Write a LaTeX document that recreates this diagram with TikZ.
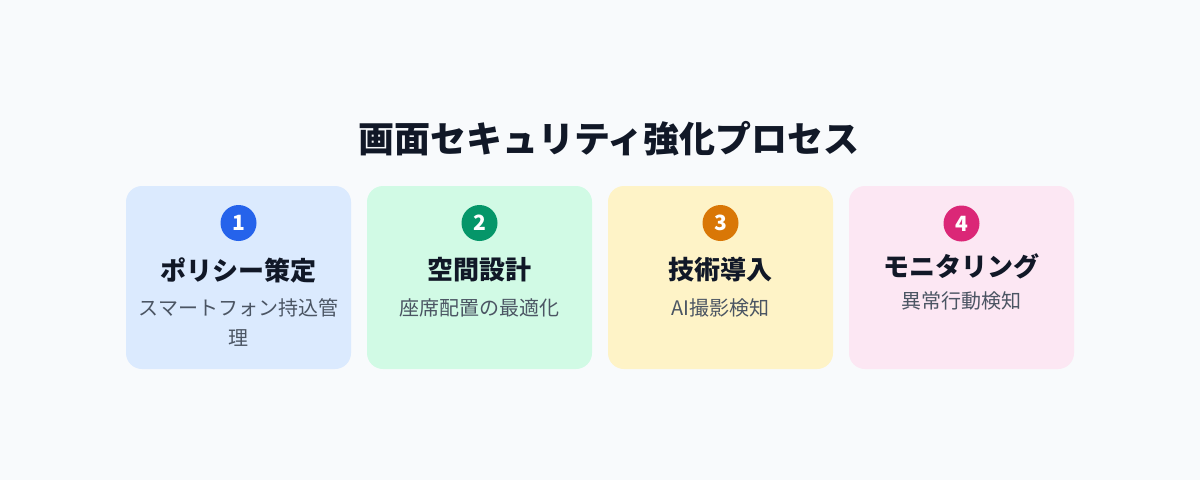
\documentclass[tikz,border=0pt]{standalone}
\usepackage{fontspec}
\setmainfont{Noto Sans CJK JP}
\usepackage{tikz}
\definecolor{pagebg}{HTML}{F8FAFC}
\definecolor{inkdark}{HTML}{111827}
\definecolor{inkgray}{HTML}{4B5563}
\definecolor{bgone}{HTML}{DBEAFE}
\definecolor{dotone}{HTML}{2563EB}
\definecolor{bgtwo}{HTML}{D1FAE5}
\definecolor{dottwo}{HTML}{059669}
\definecolor{bgthree}{HTML}{FEF3C7}
\definecolor{dotthree}{HTML}{D97706}
\definecolor{bgfour}{HTML}{FCE7F3}
\definecolor{dotfour}{HTML}{DB2777}
\tikzset{card/.style={
        fill=#1, rounded corners=16pt, inner sep=0pt,
        minimum width=225pt, minimum height=183pt
    },
    stepnum/.style={circle, fill=#1, inner sep=0pt, minimum size=36pt,
        text=white, font=\bfseries\fontsize{21}{21}\selectfont},
    headline/.style={inner sep=0pt, text=inkdark, font=\bfseries\fontsize{26}{30}\selectfont},
    subline/.style={inner sep=0pt, text=inkgray, align=center, font=\fontsize{20}{30}\selectfont}
}

\begin{document}
\begin{tikzpicture}[x=1pt,y=-1pt]
           \fill[pagebg] (0,0) rectangle (1200,480);
           \node[inner sep=0pt,text=inkdark,font=\bfseries\fontsize{36}{40}\selectfont] (title) at (609,139) {画面セキュリティ強化プロセス};
           % step 1
           \node[card=bgone] (card1) at (238.5,277.5) {};
           \node[stepnum=dotone] (num1) at (238.5,223) {1};
           \node[headline] (head1) at (238.5,270) {ポリシー策定};
           \node[subline] (sub1) at (238.5,323) {スマートフォン持込管\\理};
           % step 2
           \node[card=bgtwo] (card2) at (479.5,277.5) {};
           \node[stepnum=dottwo] (num2) at (479.5,223) {2};
           \node[headline] (head2) at (479.5,270) {空間設計};
           \node[subline] (sub2) at (479.5,308) {座席配置の最適化};
           % step 3
           \node[card=bgthree] (card3) at (720.5,277.5) {};
           \node[stepnum=dotthree] (num3) at (720.5,223) {3};
           \node[headline] (head3) at (720.5,270) {技術導入};
           \node[subline] (sub3) at (720.5,308) {AI撮影検知};
           % step 4
           \node[card=bgfour] (card4) at (961.5,277.5) {};
           \node[stepnum=dotfour] (num4) at (961.5,223.5) {4};
           \node[headline] (head4) at (961.5,266) {モニタリング};
           \node[subline] (sub4) at (961.5,301) {異常行動検知};
         \end{tikzpicture}
\end{document}
